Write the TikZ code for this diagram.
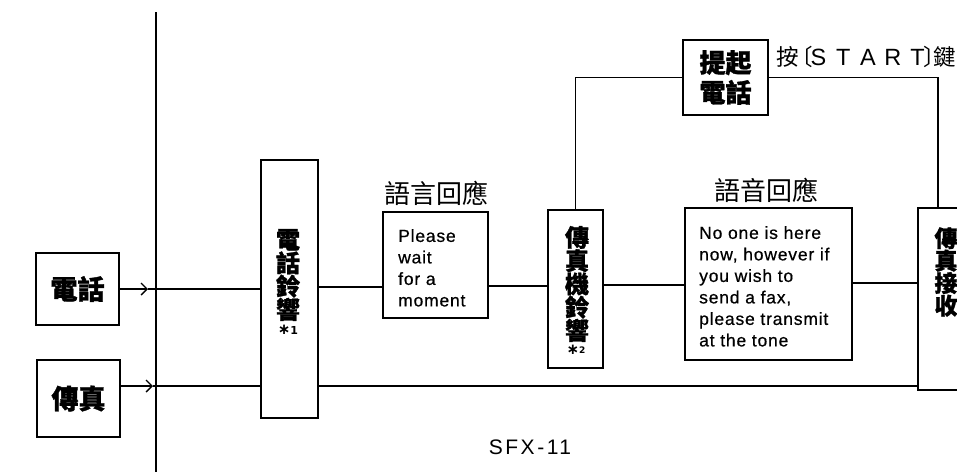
\documentclass[tikz,border=0pt]{standalone}
\usepackage{fontspec}
\setmainfont{Liberation Sans}
\newfontfamily\cjk{Noto Sans CJK TC}
\newfontfamily\cjkh[BoldFeatures={FakeBold=1.2}]{Noto Sans CJK TC}
\newfontfamily\eng[LetterSpace=4.6,FakeBold=0.6]{Liberation Sans}
\newfontfamily\engw[LetterSpace=12]{Liberation Sans}
\newfontfamily\djv{DejaVu Sans}
\usetikzlibrary{arrows.meta}
\newcommand{\lbx}[1]{\makebox[24.75pt]{#1}}
\newcommand{\tightls}{\lineskiplimit -50pt\relax}
\tikzset{
  box/.style={draw,line width=1.5pt,inner sep=0pt},
  ln/.style={line width=1.4pt},
  arr/.style={-{Straight Barb[length=6pt,width=12pt,line width=1.4pt]}},
  vlab/.style={align=center,inner sep=0pt,font=\cjkh\bfseries\fontsize{24}{23.3}\selectfont\tightls},
  hlab/.style={inner sep=0pt,font=\cjk\fontsize{26}{26}\selectfont},
  slab/.style={inner sep=0pt,font=\cjk\fontsize{22.5}{22.5}\selectfont},
  boxtxt/.style={inner sep=0pt,anchor=north west,align=left,font=\eng\fontsize{17.5}{21.5}\selectfont},
  star/.style={inner sep=0pt,font=\djv\bfseries\fontsize{11}{11}\selectfont}
}
\begin{document}
\begin{tikzpicture}[x=1pt,y=-1pt]
\useasboundingbox (0,0) rectangle (957,472);
\clip (0,0) rectangle (957,472);

% boxes
\node[box,minimum width=83,minimum height=72] (tel) at (77.5,289) {\cjkh\bfseries\fontsize{27}{27}\selectfont 電話};
\node[box,minimum width=83,minimum height=77] (fax) at (78.5,398.5) {\cjkh\bfseries\fontsize{27}{27}\selectfont 傳真};
\node[box,minimum width=57,minimum height=258] (ring1) at (289.5,289) {};
\node[box,minimum width=105,minimum height=106] (please) at (435.5,265) {};
\node[box,minimum width=55,minimum height=158] (faxring) at (575.5,289) {};
\node[box,minimum width=167,minimum height=152] (voice) at (768.5,284) {};
\node[box,minimum width=80,minimum height=182] (recv) at (958,299) {};
\node[box,minimum width=85,minimum height=75,align=center,font=\cjkh\bfseries\fontsize{26}{30}\selectfont] (ask) at (725.5,77.5) {提起\\電話};

% texts inside boxes
\node[vlab] (ring1t) at (288,275) {電\\話\\鈴\\響};
\node[star] (ring1s) at (288,330) {{\fontsize{15}{15}\selectfont ∗}1};
\node[vlab] (faxringt) at (577,284) {傳\\真\\機\\鈴\\響};
\node[star] (faxrings) at (576,350) {{\fontsize{15}{15}\selectfont ∗}\raisebox{1.5pt}{\fontsize{9}{9}\selectfont 2}};
\node[vlab,font=\cjkh\bfseries\fontsize{23}{22.5}\selectfont\tightls] (recvt) at (946,272) {傳\\真\\接\\收};
\node[boxtxt] (pleaset) at (398,229) {Please\\wait\\for a\\moment};
\node[boxtxt] (voicet) at (699,226) {No one is here\\now, however if\\you wish to\\send a fax,\\please transmit\\at the tone};

% labels
\node[hlab] (lab1) at (436,193) {語言回應};
\node[hlab] (lab2) at (766.5,190) {語音回應};
\node[slab] (startA) at (787.5,57) {按};
\node[slab,anchor=west] (startB) at (790.5,57) {〔};
\node[inner sep=0pt,font=\fontsize{23.5}{23.5}\selectfont] (startC) at (868,57) {\lbx{S}\lbx{T}\lbx{A}\lbx{R}\lbx{T}};
\node[slab,anchor=west] (startD) at (923,57) {〕};
\node[slab] (startE) at (945,57) {鍵};
\node[inner sep=0pt,font=\engw\fontsize{21}{21}\selectfont] (sfx) at (530,447) {SFX-11};

% coordinates
\coordinate (vtop) at (156,12);
\coordinate (vbot) at (156,472);
\coordinate (j1) at (156,289);
\coordinate (j2) at (156,386);
\coordinate (rt) at (938,0);

% connectors
\draw[ln] (vtop) -- (vbot);
\draw[ln,arr] (tel.east) -- ([xshift=-8pt]j1);
\draw[ln] ([xshift=-8pt]j1) -- (ring1.west |- j1);
\draw[ln,arr] (fax.east |- j2) -- ([xshift=-3pt]j2);
\draw[ln] ([xshift=-3pt]j2) -- (ring1.west |- j2);
\draw[ln] (ring1.east |- 0,287) -- (please.west |- 0,287);
\draw[ln] (please.east |- 0,286) -- (faxring.west |- 0,286);
\draw[ln] (faxring.east |- 0,285) -- (voice.west |- 0,285);
\draw[ln] (voice.east |- 0,283) -- (recv.west |- 0,283);
\draw[ln] (ring1.east |- j2) -- (recv.west |- j2);
\draw[ln] (faxring.north) |- (ask.west);
\draw[ln] (ask.east) -| (recv.north -| rt);
\end{tikzpicture}
\end{document}
